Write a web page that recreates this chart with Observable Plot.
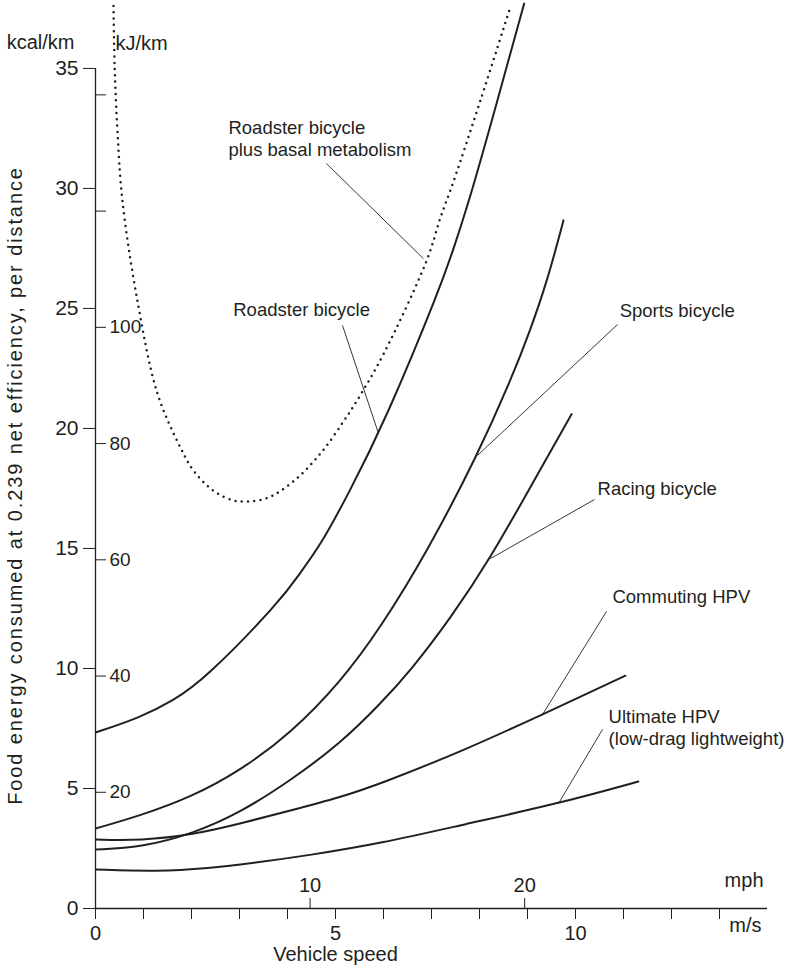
<!DOCTYPE html>
<html><head><meta charset="utf-8">
<script src="https://cdn.jsdelivr.net/npm/d3@7"></script>
<script src="https://cdn.jsdelivr.net/npm/@observablehq/plot@0.6"></script>
<style>
html,body{margin:0;padding:0;background:#fff;}
#chart svg{display:block;}
</style></head><body><div id="chart"></div>
<script>
// ---- data (speed in m/s, food energy in kcal/km) ----
const roadsterSpeed  = [0, 0.94, 1.625, 2.25, 3.85, 4.27, 4.69, 5.25, 6.04, 7.19, 7.46, 7.79, 8.375, 8.93];
const roadsterEnergy = [7.33, 7.96, 8.67, 9.5, 12.8, 14.0, 15.15, 17.2, 20.33, 25.9, 27.5, 29.5, 33.67, 37.7];

const basalSpeed  = [0.375, 0.4, 0.46, 0.56, 0.875, 1.29, 1.77, 2.04, 2.46, 2.875, 3.17, 3.58, 4.125, 4.69, 5.17, 5.46, 6.0, 6.9, 7.19, 7.46, 8.02, 8.65];
const basalEnergy = [37.6, 35.0, 32.3, 29.5, 25.3, 21.46, 19.2, 18.25, 17.4, 17.0, 16.96, 17.1, 17.8, 18.96, 20.3, 21.2, 23.1, 27.0, 28.8, 30.3, 33.67, 37.6];

const sportsSpeed  = [0, 0.94, 1.98, 3.02, 4.06, 5.1, 5.94, 6.92, 7.96, 8.65, 9.06, 9.42, 9.75];
const sportsEnergy = [3.33, 3.875, 4.63, 5.75, 7.29, 9.42, 11.7, 14.9, 18.9, 22.0, 24.1, 26.2, 28.67];

const racingSpeed  = [0, 0.94, 2.04, 3.02, 4.06, 5.1, 5.94, 6.56, 7.4, 8.23, 9.13, 9.92];
const racingEnergy = [2.46, 2.54, 3.125, 4.0, 5.33, 6.875, 8.54, 9.9, 12.1, 14.6, 17.8, 20.6];

const commutingSpeed  = [0, 0.94, 2.04, 3.02, 4.06, 5.1, 5.94, 7.67, 9.31, 11.04];
const commutingEnergy = [2.875, 2.83, 3.08, 3.54, 4.08, 4.63, 5.2, 6.58, 8.08, 9.7];

const ultimateSpeed  = [0, 1.29, 2.33, 3.375, 4.42, 5.94, 7.67, 9.65, 11.31];
const ultimateEnergy = [1.625, 1.54, 1.67, 1.92, 2.21, 2.71, 3.5, 4.375, 5.29];

// ---- tick labels ----
const kcalTicks = [0, 5, 10, 15, 20, 25, 30, 35];
const kjTicks = [20, 40, 60, 80, 100, 120, 140];
const kjLabelled = [20, 40, 60, 80, 100];
const msTicks = [0,1,2,3,4,5,6,7,8,9,10,11,12,13];
const msLabelled = [0, 5, 10];
const mphTicks = [10, 20];
const KJ_PER_KCAL_AS_DRAWN = 4.13;   // spacing of the kJ ticks as printed
const MS_PER_MPH = 0.44704;

// ---- annotation labels ----
const labelNames = ["Roadster bicycle\nplus basal metabolism", "Roadster bicycle", "Sports bicycle", "Racing bicycle", "Commuting HPV", "Ultimate HPV\n(low-drag lightweight)"];
const labelAt = [[2.77, 32.11], [2.87, 25.0], [10.92, 24.92], [10.46, 17.52], [10.77, 13.02], [10.69, 7.57]];
const pointerFrom = [[4.81, 31.04], [5.146, 24.29], [10.875, 24.33], [10.396, 17.04], [10.646, 12.375], [10.5625, 7.458]];
const pointerTo   = [[6.83, 27.08], [5.896, 19.79], [7.958, 18.875], [8.229, 14.58], [9.3125, 8.083], [9.646, 4.375]];

// ---- build tables ----
const solid = [
  ["Roadster bicycle", roadsterSpeed, roadsterEnergy],
  ["Sports bicycle", sportsSpeed, sportsEnergy],
  ["Racing bicycle", racingSpeed, racingEnergy],
  ["Commuting HPV", commutingSpeed, commutingEnergy],
  ["Ultimate HPV", ultimateSpeed, ultimateEnergy]
].flatMap(([name, xs, ys]) => xs.map((x, i) => ({series: name, speed: x, energy: ys[i]})));
const basal = basalSpeed.map((x, i) => ({speed: x, energy: basalEnergy[i]}));
const labels = labelNames.map((t, i) => ({text: t, x: labelAt[i][0], y: labelAt[i][1]}));
const pointers = pointerFrom.map((p, i) => ({x1: p[0], y1: p[1], x2: pointerTo[i][0], y2: pointerTo[i][1]}));

const W = 788, H = 973;
const M = {top: 0, right: 21, bottom: 65, left: 95};
const ink = "#231f20";
const font = "'Liberation Sans', Arial, Helvetica, sans-serif";

const plot = Plot.plot({
  width: W, height: H,
  marginTop: M.top, marginRight: M.right, marginBottom: M.bottom, marginLeft: M.left,
  style: {fontFamily: font, fontSize: "19px", color: ink, background: "#fff"},
  x: {domain: [0, 14]},
  y: {domain: [0, 37.83]},
  marks: [
    Plot.line(solid, {x: "speed", y: "energy", z: "series", curve: "basis", stroke: ink, strokeWidth: 2, clip: true}),
    Plot.line(basal, {x: "speed", y: "energy", curve: "catmull-rom", stroke: ink, strokeWidth: 2.5, strokeDasharray: "0 6.3", strokeLinecap: "round", clip: true}),
    Plot.link(pointers, {x1: "x1", y1: "y1", x2: "x2", y2: "y2", stroke: ink, strokeWidth: 0.9}),
    Plot.text(labels, {x: "x", y: "y", text: "text", textAnchor: "start", lineAnchor: "middle", lineHeight: 1.2, fontSize: 18.5, fill: ink}),
    // axis lines
    Plot.ruleX([0], {y1: 0, y2: 35, stroke: ink, strokeWidth: 1.3}),
    Plot.ruleY([0], {x1: 0, x2: 14, stroke: ink, strokeWidth: 1.3}),
    // kcal axis
    Plot.axisY({anchor: "left", ticks: kcalTicks, tickSize: 12, tickPadding: 5, fontSize: 21, label: null, stroke: ink}),
    // kJ axis (ticks on the inner side of the same axis line)
    Plot.axisY({anchor: "right", ticks: kjTicks.map(k => k / KJ_PER_KCAL_AS_DRAWN), tickFormat: v => {
      const k = Math.round(v * KJ_PER_KCAL_AS_DRAWN); return kjLabelled.includes(k) ? String(k) : ""; },
      tickSize: 10, tickPadding: 4, fontSize: 19, label: null, dx: -(W - M.left - M.right), stroke: ink}),
    // m/s axis
    Plot.axisX({anchor: "bottom", ticks: msTicks, tickFormat: d => msLabelled.includes(d) ? String(d) : "", tickSize: 11, tickPadding: 6, fontSize: 20, label: null, stroke: ink}),
    // mph axis (ticks pointing up from the baseline)
    Plot.axisX({anchor: "top", ticks: mphTicks.map(m => m * MS_PER_MPH), tickFormat: v => String(Math.round(v / MS_PER_MPH)), tickSize: 11, tickPadding: 6, fontSize: 20, label: null, dy: H - M.top - M.bottom, stroke: ink}),
    // unit / axis titles
    Plot.text(["kcal/km"], {frameAnchor: "top-left", dx: -21, dy: 34, textAnchor: "end", fontSize: 20, fill: ink}),
    Plot.text(["kJ/km"], {frameAnchor: "top-left", dx: 20, dy: 35, textAnchor: "start", fontSize: 20, fill: ink}),
    Plot.text(["mph"], {frameAnchor: "bottom-right", dx: -4, dy: -22, textAnchor: "end", fontSize: 20, fill: ink}),
    Plot.text(["m/s"], {frameAnchor: "bottom-right", dx: -6, dy: 23, textAnchor: "end", fontSize: 20, fill: ink}),
    Plot.text(["Vehicle speed"], {x: 5, frameAnchor: "bottom", dy: 52, fontSize: 20, fill: ink}),
    Plot.text(["Food energy consumed at 0.239 net efficiency, per distance"], {frameAnchor: "left", textAnchor: "middle", dx: -80, dy: 31, rotate: -90, fontSize: 20, fill: ink})
  ]
});
d3.select(plot).selectAll("text").filter(function() { return this.textContent.startsWith("Food energy"); })
  .attr("letter-spacing", "1.9px");
document.getElementById("chart").appendChild(plot);
</script></body></html>
